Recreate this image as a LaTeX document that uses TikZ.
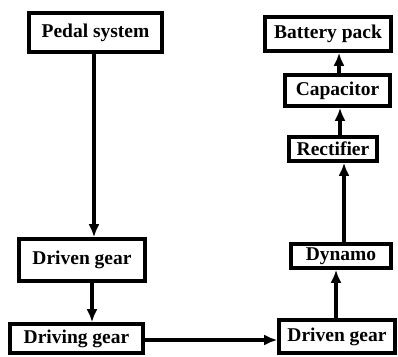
\documentclass[tikz,border=0pt]{standalone}
\usepackage{fontspec}
\setmainfont{Liberation Serif}
\usetikzlibrary{arrows.meta}

\begin{document}
\begin{tikzpicture}[x=1pt, y=-1pt,
    block/.style={draw, line width=3.6pt, inner sep=0pt,
        font=\fontsize{19.5}{22}\selectfont\bfseries},
    flow/.style={line width=3.6pt, -{Latex[length=13pt, width=11pt]}}]

    \useasboundingbox (0,0) rectangle (398,356);

    % Blocks
    \node[block, minimum width=133pt, minimum height=39pt] (pedal) at (95.5,32.5) {Pedal system};
    \node[block, minimum width=126pt, minimum height=42pt] (drivenL) at (82,260) {Driven gear};
    \node[block, minimum width=133pt, minimum height=29pt] (driving) at (76.5,338.5) {Driving gear};
    \node[block, minimum width=116pt, minimum height=33pt] (drivenR) at (337,336.5) {Driven gear};
    \node[block, minimum width=100pt, minimum height=24pt] (dynamo) at (341,256) {Dynamo};
    \node[block, minimum width=88pt, minimum height=24pt] (rectifier) at (333,149) {Rectifier};
    \node[block, minimum width=105pt, minimum height=31pt] (capacitor) at (337.5,90.5) {Capacitor};
    \node[block, minimum width=126pt, minimum height=34pt] (battery) at (328,34) {Battery pack};

    % Arrows
    \draw[flow] ([xshift=-1.5pt]pedal.south) -- ([xshift=-1.5pt]pedal.south |- drivenL.north);
    \draw[flow] ([xshift=10pt]drivenL.south) -- ([xshift=10pt]drivenL.south |- driving.north);
    \draw[flow] ([yshift=-1.5pt]driving.east) -- ([yshift=-1.5pt]driving.east -| drivenR.west);
    \draw[flow] ([xshift=-1pt]drivenR.north) -- ([xshift=-1pt]drivenR.north |- dynamo.south);
    \draw[flow] ([xshift=3pt]dynamo.north) -- ([xshift=3pt]dynamo.north |- rectifier.south);
    \draw[flow] ([xshift=7pt]rectifier.north) -- ([xshift=7pt]rectifier.north |- capacitor.south);
    \draw[flow] ([xshift=1.5pt]capacitor.north) -- ([xshift=1.5pt]capacitor.north |- battery.south);

\end{tikzpicture}
\end{document}
